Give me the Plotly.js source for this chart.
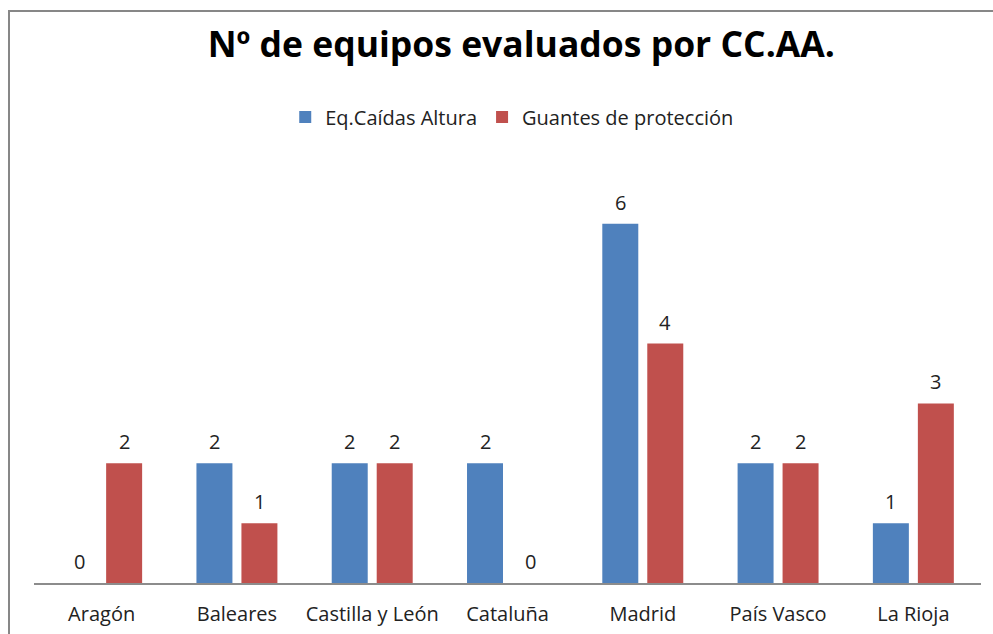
<!DOCTYPE html>
<html>
<head>
<meta charset="utf-8">
<script src="https://cdn.plot.ly/plotly-3.0.1.min.js"></script>
<style>
  html, body { margin: 0; padding: 0; background: #fff; }
  #wrap { position: relative; width: 993px; height: 634px; overflow: hidden; }
  #chart { position: absolute; left: 0; top: 0; width: 993px; height: 634px; }
  #frame { position: absolute; left: 8px; top: 10px; width: 1000px; height: 700px;
           border-left: 2px solid #878787; border-top: 2px solid #878787; pointer-events: none; }
</style>
</head>
<body>
<div id="wrap">
  <div id="chart"></div>
  <div id="frame"></div>
</div>
<script>
const categories = ["Aragón", "Baleares", "Castilla y León", "Cataluña", "Madrid", "País Vasco", "La Rioja"];
const seriesNames = ["Eq.Caídas Altura", "Guantes de protección"];
const caidasAltura = [0, 2, 2, 2, 6, 2, 1];
const guantes = [2, 1, 2, 0, 4, 2, 3];
const colors = ["#4F81BD", "#C0504D"];
const titleText = "Nº de equipos evaluados por CC.AA.";

const FONT = "'Open Sans', 'Noto Sans', sans-serif";
const series = [caidasAltura, guantes];

const traces = series.map((vals, i) => ({
  type: "bar",
  name: seriesNames[i],
  x: categories,
  y: vals,
  marker: { color: colors[i] },
  hoverinfo: "x+y"
}));

const annotations = [];
series.forEach((vals, i) => {
  vals.forEach((v, j) => {
    annotations.push({
      x: categories[j], y: v, xref: "x", yref: "y",
      text: String(v), showarrow: false,
      xshift: i === 0 ? -22.5 : 22.5,
      yanchor: "bottom", yshift: 6,
      font: { family: FONT, size: 20, color: "#222" }
    });
  });
});

const layout = {
  width: 993, height: 634,
  margin: { l: 34, r: 12, t: 164, b: 51 },
  paper_bgcolor: "#fff", plot_bgcolor: "#fff",
  font: { family: FONT, size: 20, color: "#222" },
  title: {
    text: titleText,
    font: { family: FONT, size: 35.5, color: "#000", weight: "bold" },
    xref: "container", x: 0.525, xanchor: "center",
    yref: "container", y: 0.929, yanchor: "middle"
  },
  barmode: "group",
  bargap: 0.335,
  bargroupgap: 0.2,
  showlegend: true,
  legend: {
    orientation: "h",
    x: 0.505, xanchor: "center",
    y: 1.112, yanchor: "middle",
    font: { family: FONT, size: 20, color: "#222" },
    traceorder: "normal"
  },
  xaxis: {
    type: "category",
    showline: true, linecolor: "#8c8c8c", linewidth: 1.5,
    ticks: "", showgrid: false, zeroline: false,
    ticklabelstandoff: 12,
    tickfont: { family: FONT, size: 20, color: "#222" }
  },
  yaxis: {
    range: [0, 7], visible: false, showgrid: false, zeroline: false, fixedrange: true
  },
  annotations: annotations
};

Plotly.newPlot("chart", traces, layout, { displayModeBar: false, staticPlot: true });
</script>
</body>
</html>
